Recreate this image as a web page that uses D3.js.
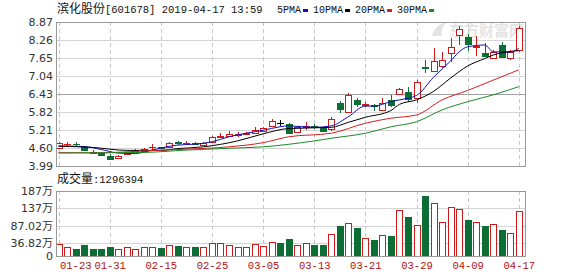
<!DOCTYPE html>
<html>
<head>
<meta charset="utf-8">
<script src="https://cdn.jsdelivr.net/npm/d3@7"></script>
<style>
  html, body { margin: 0; padding: 0; background: #fff; }
  svg { display: block; }
</style>
</head>
<body>
<div id="chart"></div>
<script>
const dates = ["01-23","01-24","01-25","01-28","01-29","01-30","01-31","02-01","02-11","02-12","02-13","02-14","02-15","02-18","02-19","02-20","02-21","02-22","02-25","02-26","02-27","02-28","03-01","03-04","03-05","03-06","03-07","03-08","03-11","03-12","03-13","03-14","03-15","03-18","03-19","03-20","03-21","03-22","03-25","03-26","03-27","03-28","03-29","04-01","04-02","04-03","04-04","04-08","04-09","04-10","04-11","04-12","04-15","04-16","04-17"];
const open  = [4.62,4.73,4.75,4.65,4.48,4.43,4.34,4.25,4.39,4.48,4.50,4.63,4.62,4.64,4.79,4.76,4.77,4.71,4.79,5.00,5.02,5.04,5.08,5.12,5.17,5.33,5.46,5.42,5.13,5.31,5.34,5.28,5.23,6.14,5.85,6.24,6.08,6.05,5.90,6.21,6.42,6.50,6.30,7.33,7.20,7.40,7.80,8.42,8.36,8.04,7.82,7.65,8.10,7.66,7.90];
const high  = [4.80,4.80,4.79,4.66,4.52,4.45,4.38,4.35,4.46,4.55,4.59,4.72,4.65,4.80,4.84,4.83,4.82,4.80,5.01,5.12,5.16,5.13,5.13,5.32,5.30,5.58,5.56,5.46,5.33,5.49,5.40,5.31,5.66,6.20,6.47,6.30,6.16,6.08,6.28,6.40,6.62,6.68,6.92,7.58,7.98,7.85,8.32,8.72,8.45,8.38,8.15,7.93,8.20,7.93,8.74];
const low   = [4.58,4.64,4.65,4.54,4.40,4.32,4.20,4.22,4.37,4.45,4.48,4.53,4.58,4.63,4.70,4.70,4.71,4.69,4.78,4.93,4.96,4.98,5.03,5.10,5.15,5.32,5.33,5.09,5.12,5.21,5.25,5.13,5.18,5.78,5.82,5.98,6.00,5.85,5.85,5.99,6.40,6.17,6.11,7.13,7.18,7.32,7.53,8.10,7.88,7.72,7.70,7.60,7.65,7.59,7.85];
const close = [4.78,4.74,4.74,4.55,4.45,4.35,4.23,4.33,4.44,4.52,4.57,4.645,4.60,4.78,4.77,4.77,4.75,4.78,4.97,5.02,5.09,5.06,5.10,5.22,5.27,5.51,5.46,5.13,5.31,5.33,5.29,5.18,5.57,5.95,6.41,6.12,6.10,6.02,6.14,6.05,6.59,6.25,6.84,7.29,7.55,7.59,8.01,8.63,8.11,8.06,7.72,7.84,7.68,7.87,8.66];
// volume in 万
const volume = [33.8,26.0,21.4,30.9,21.4,19.4,25.1,19.4,25.1,19.4,25.1,25.1,22.3,30.9,28.0,25.1,25.1,25.1,38.7,38.7,33.0,25.1,25.1,34.7,28.0,40.5,36.7,48.3,30.9,36.7,30.9,30.9,62.7,85.8,93.6,80.9,52.0,45.4,59.8,56.9,132.0,111.8,88.7,172.5,151.4,96.5,139.9,135.0,103.2,98.3,85.8,90.7,74.3,67.6,129.6];
const lastVolume = 1296394;

// moving averages at sample days
const ma5  = [["01-23",4.67],["01-28",4.65],["01-30",4.55],["02-01",4.43],["02-12",4.41],["02-13",4.46],["02-15",4.60],["02-19",4.70],["02-21",4.73],["02-25",4.81],["02-27",4.98],["03-01",5.10],["03-05",5.20],["03-07",5.32],["03-08",5.35],["03-13",5.30],["03-15",5.35],["03-19",5.66],["03-21",6.02],["03-22",6.02],["03-26",6.17],["03-27",6.23],["03-29",6.38],["04-02",7.00],["04-04",7.55],["04-08",7.86],["04-09",8.03],["04-11",8.09],["04-12",7.86],["04-16",7.85],["04-17",7.98]];
const ma10 = [["01-23",4.66],["01-29",4.62],["02-11",4.52],["02-15",4.52],["02-19",4.58],["02-22",4.64],["02-28",4.84],["03-05",5.08],["03-08",5.26],["03-15",5.30],["03-19",5.47],["03-21",5.64],["03-26",5.87],["03-27",6.08],["03-29",6.23],["04-02",6.52],["04-04",6.97],["04-09",7.38],["04-11",7.63],["04-12",7.75],["04-17",7.90]];
const ma20 = [["01-23",4.44],["01-30",4.44],["02-13",4.50],["02-20",4.56],["02-27",4.64],["03-05",4.78],["03-08",4.98],["03-15",5.10],["03-21",5.44],["03-26",5.61],["03-29",5.72],["04-03",6.23],["04-09",6.55],["04-12",6.90],["04-17",7.25]];
const ma30 = [["01-23",4.43],["02-13",4.45],["02-20",4.53],["02-27",4.59],["03-05",4.64],["03-13",4.84],["03-15",4.93],["03-21",5.10],["03-26",5.32],["03-29",5.49],["04-03",5.89],["04-09",6.17],["04-12",6.40],["04-17",6.68]];

const priceTicks = [8.87,8.26,7.65,7.04,6.43,5.82,5.21,4.60,3.99];
const volTicks = [187,137,87.02,36.82,0];
const volTickLabels = ["187万","137万","87.02万","36.82万","0"];
const dateTicks = ["01-23","01-31","02-15","02-25","03-05","03-13","03-21","03-29","04-09","04-17"];

const maSeries = [
  {name: "5PMA", data: ma5, color: "#1010c0"},
  {name: "10PMA", data: ma10, color: "#000000"},
  {name: "20PMA", data: ma20, color: "#d42020"},
  {name: "30PMA", data: ma30, color: "#1b8a2a"}
];

const width = 578, height = 276;
const left = 56, right = 526;
const pTop = 22, pBottom = 166;
const vTop = 191, vBottom = 256;
const UP = "#d01a1a", DOWN = "#0c6e34";
const mono = "'Liberation Mono','DejaVu Sans Mono',monospace";
const cjk = "'Noto Sans CJK SC','Noto Sans',sans-serif";

const svg = d3.select("#chart").append("svg")
  .attr("width", width).attr("height", height)
  .attr("viewBox", `0 0 ${width} ${height}`);

const x = d3.scalePoint().domain(dates).range([58.5, 518.8]);
const y = d3.scaleLinear().domain([3.99, 8.87]).range([pBottom, pTop]);
const yv = d3.scaleLinear().domain([0, 187]).range([vBottom, vTop]);
const px = v => Math.round(v) + 0.5;

// watermark
const wm = svg.append("g").attr("fill", "#e4e4e4");
wm.append("text").attr("x", 449).attr("y", 36)
  .attr("font-family", cjk).attr("font-size", 15).attr("font-weight", "bold")
  .text("东方财富网");
wm.append("path").attr("d", "M432,36 C434,28 440,23 447,22 C443,26 441,30 442,36 Z");

// grids
const grid = svg.append("g").attr("shape-rendering", "crispEdges");
grid.selectAll(".hp").data(priceTicks.slice(1, -1)).enter().append("line")
  .attr("x1", left).attr("x2", right)
  .attr("y1", d => px(y(d))).attr("y2", d => px(y(d)))
  .attr("stroke", d => d === 6.43 ? "#a0a0a0" : "#d4d4d4");
grid.selectAll(".hv").data(volTicks.slice(1, -1)).enter().append("line")
  .attr("x1", left).attr("x2", right)
  .attr("y1", d => px(yv(d))).attr("y2", d => px(yv(d)))
  .attr("stroke", "#d4d4d4");
dateTicks.forEach(d => {
  [[pTop, pBottom], [vTop, vBottom]].forEach(([a, b]) => {
    grid.append("line")
      .attr("x1", px(x(d))).attr("x2", px(x(d)))
      .attr("y1", a).attr("y2", b)
      .attr("stroke", "#c8c8c8").attr("stroke-dasharray", "4,3");
  });
});

// candles
const candles = svg.append("g").attr("shape-rendering", "crispEdges");
const cData = dates.map((d, i) => ({d, o: open[i], h: high[i], l: low[i], c: close[i], v: volume[i], i}));
const cColor = k => k.c > k.o ? UP : (k.c < k.o ? DOWN : "#000");
const vColor = k => k.c > k.o ? UP : (k.c < k.o ? DOWN : (k.i > 0 && k.c < close[k.i - 1] ? DOWN : UP));

const cg = candles.selectAll("g").data(cData).enter().append("g");
cg.append("line")
  .attr("x1", k => px(x(k.d))).attr("x2", k => px(x(k.d)))
  .attr("y1", k => y(k.h)).attr("y2", k => y(k.l))
  .attr("stroke", cColor);
cg.append("rect")
  .attr("x", k => Math.round(x(k.d)) - 2.5)
  .attr("width", 6)
  .attr("y", k => Math.round(y(Math.max(k.o, k.c))) + 0.5)
  .attr("height", k => Math.max(0.01, Math.round(Math.abs(y(k.o) - y(k.c)))))
  .attr("fill", k => k.c > k.o ? "#fff" : cColor(k))
  .attr("stroke", cColor);

// volume bars
const vb = svg.append("g").attr("shape-rendering", "crispEdges");
vb.selectAll("rect").data(cData).enter().append("rect")
  .attr("x", k => Math.round(x(k.d)) - 2.5)
  .attr("width", 6)
  .attr("y", k => Math.round(yv(k.v)) + 0.5)
  .attr("height", k => vBottom - Math.round(yv(k.v)) - 0.5)
  .attr("fill", k => vColor(k) === UP ? "#fff" : DOWN)
  .attr("stroke", vColor);

// moving average lines
svg.append("clipPath").attr("id", "pclip").append("rect")
  .attr("x", left).attr("y", pTop).attr("width", right - left).attr("height", pBottom - pTop);
const line = d3.line().x(p => x(p[0])).y(p => y(p[1])).curve(d3.curveMonotoneX);
svg.append("g").attr("clip-path", "url(#pclip)")
  .selectAll("path").data(maSeries).enter().append("path")
  .attr("d", s => line(s.data))
  .attr("fill", "none").attr("stroke", s => s.color).attr("stroke-width", 1);

// frames
[[pTop, pBottom], [vTop, vBottom]].forEach(([a, b]) => {
  svg.append("rect").attr("x", left + 0.5).attr("y", a + 0.5)
    .attr("width", right - left - 1).attr("height", b - a)
    .attr("fill", "none").attr("stroke", "#999").attr("shape-rendering", "crispEdges");
});

// price axis labels
const yAxis = d3.axisLeft(y).tickValues(priceTicks).tickSize(0).tickPadding(3).tickFormat(d3.format(".2f"));
svg.append("g").attr("transform", `translate(${left},0)`).call(yAxis)
  .call(g => g.select(".domain").remove())
  .selectAll("text").attr("font-family", "'DejaVu Sans',sans-serif").attr("font-size", 11).attr("fill", "#333");

// volume axis labels
const vAxis = d3.axisLeft(yv).tickValues(volTicks).tickSize(0).tickPadding(3)
  .tickFormat((d, i) => volTickLabels[i]);
svg.append("g").attr("transform", `translate(${left},0)`).call(vAxis)
  .call(g => g.select(".domain").remove())
  .selectAll("text").attr("font-family", "'DejaVu Sans','Noto Sans CJK SC',sans-serif").attr("font-size", 11).attr("fill", "#333");

// date axis
const xAxis = d3.axisBottom(x).tickValues(dateTicks).tickSize(0).tickPadding(6);
svg.append("g").attr("transform", `translate(0,${vBottom})`).call(xAxis)
  .call(g => g.select(".domain").remove())
  .selectAll("text").attr("font-family", mono).attr("font-size", 10.5).attr("fill", "#b01010")
  .attr("text-anchor", d => d === "01-23" ? "start" : "middle")
  .attr("dx", d => d === "01-23" ? 1 : 0);

// title
const title = svg.append("text").attr("x", 57).attr("y", 13).attr("fill", "#111").attr("font-family", mono).attr("font-size", 10.5);
title.append("tspan").attr("font-family", cjk).attr("font-size", 12).text("滨化股份");
title.append("tspan").text("[601678] 2019-04-17 13:59");

// legend
let lx = 277;
maSeries.forEach(s => {
  const t = svg.append("text").attr("x", lx).attr("y", 13).attr("fill", "#111")
    .attr("font-family", mono).attr("font-size", 10).text(s.name);
  const w = t.node().getComputedTextLength();
  svg.append("rect").attr("x", lx + w + 2).attr("y", 9).attr("width", 5).attr("height", 3).attr("fill", s.color);
  lx += w + 2 + 5 + 5;
});

// volume caption
const vt = svg.append("text").attr("x", 57).attr("y", 183).attr("fill", "#111").attr("font-family", mono).attr("font-size", 10.5);
vt.append("tspan").attr("font-family", cjk).attr("font-size", 12).text("成交量");
vt.append("tspan").text(":" + lastVolume);
</script>
</body>
</html>
